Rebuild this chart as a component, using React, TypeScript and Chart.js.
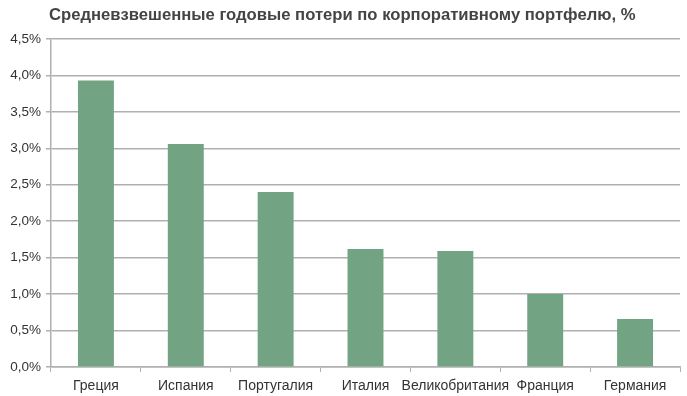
import React, { useEffect, useRef } from "react";
import { Chart, registerables } from "chart.js";

Chart.register(...registerables);

const TITLE = "Средневзвешенные годовые потери по корпоративному портфелю, %";
const categories = ["Греция", "Испания", "Португалия", "Италия", "Великобритания", "Франция", "Германия"];
const losses = [3.93, 3.06, 2.4, 1.62, 1.59, 1.0, 0.66];
const yMax = 4.5;
const yStep = 0.5;

export default function App() {
  const ref = useRef<HTMLCanvasElement | null>(null);
  useEffect(() => {
    document.body.style.margin = "0";
    const ctx = ref.current!;
    const chart = new Chart(ctx, {
      type: "bar",
      data: {
        labels: categories,
        datasets: [
          {
            data: losses,
            backgroundColor: "#72a383",
            borderWidth: 0,
            barPercentage: 0.8,
            categoryPercentage: 0.5,
          },
        ],
      },
      options: {
        animation: false,
        responsive: false,
        maintainAspectRatio: false,
        layout: { padding: { top: 39, right: 7, left: 0, bottom: 0 } },
        plugins: { legend: { display: false }, tooltip: { enabled: false }, title: { display: false } },
        scales: {
          x: {
            grid: { drawOnChartArea: false, drawTicks: true, tickLength: 5, color: "#b0b0b0", offset: true },
            border: { color: "#b0b0b0", width: 1.5 },
            ticks: { color: "#333", font: { family: "Liberation Sans", size: 14 }, padding: 6, maxRotation: 0, autoSkip: false },
            afterFit: (s: any) => { s.height = 29; },
          },
          y: {
            min: 0,
            max: yMax,
            grid: { color: "#b0b0b0", lineWidth: 1.5, tickLength: 5, drawTicks: true },
            border: { color: "#b0b0b0", width: 1.5 },
            ticks: {
              stepSize: yStep,
              color: "#333",
              padding: 5,
              font: { family: "Liberation Sans", size: 13.5 },
              callback: (v: any) => Number(v).toFixed(1).replace(".", ",") + "%",
            },
            afterFit: (s: any) => { s.width = 51; },
          },
        },
      },
    });
    return () => chart.destroy();
  }, []);
  return (
    <div style={{ position: "relative", width: 687, height: 396, background: "#fff" }}>
      <div
        style={{
          position: "absolute",
          left: 49,
          top: 6,
          fontFamily: "Liberation Sans, Arial, sans-serif",
          fontWeight: "bold",
          fontSize: 16,
          color: "#444",
          whiteSpace: "nowrap",
          transform: "scaleX(1.04)",
          transformOrigin: "left center",
        }}
      >
        {TITLE}
      </div>
      <canvas ref={ref} width={687} height={396} style={{ display: "block" }} />
    </div>
  );
}
